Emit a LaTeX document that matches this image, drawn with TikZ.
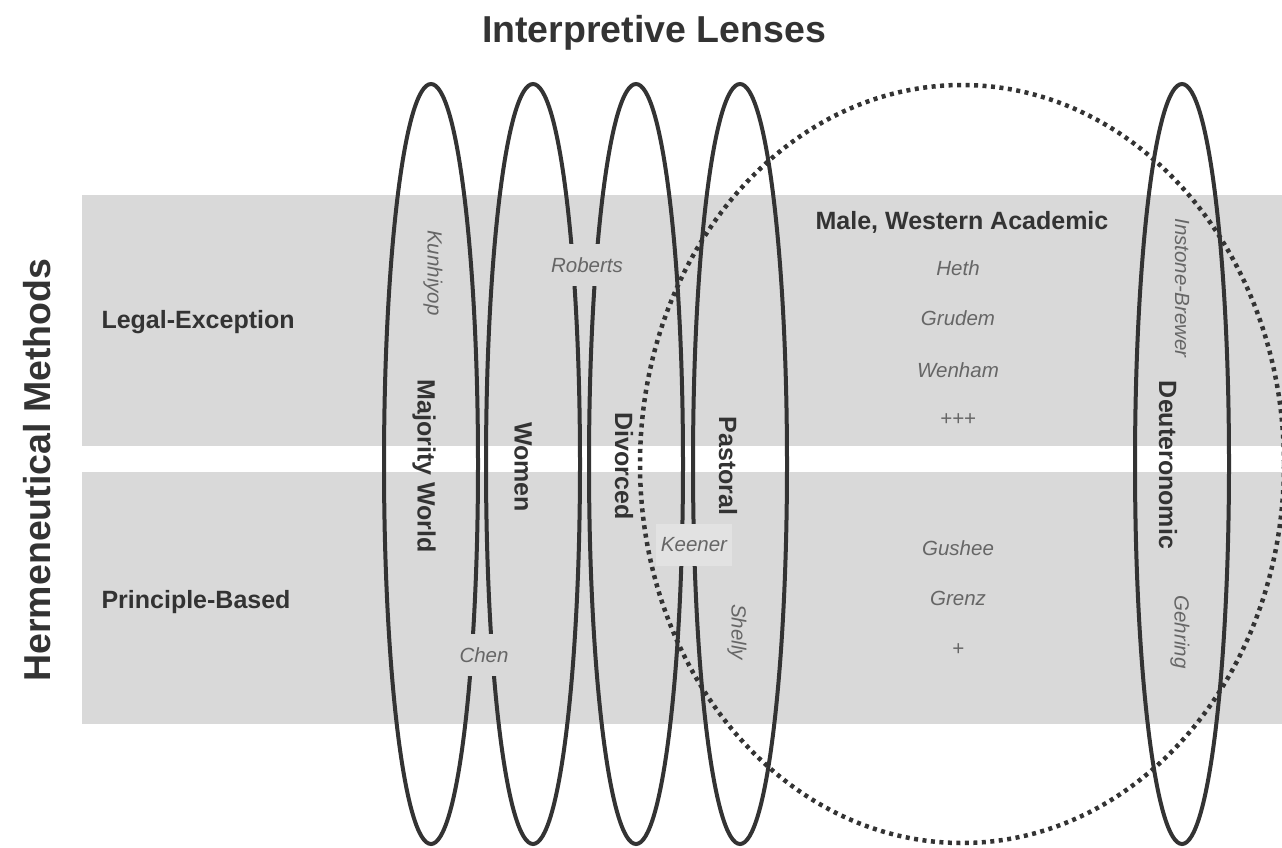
\documentclass[tikz,border=0pt]{standalone}
\usepackage{fontspec}
\setmainfont{Liberation Sans}
\usetikzlibrary{shapes.geometric}

\definecolor{bandgray}{HTML}{D9D9D9}
\definecolor{inkgray}{HTML}{333333}
\definecolor{scholargray}{HTML}{666666}

\begin{document}
\begin{tikzpicture}[x=1pt,y=-1pt,
    band/.style={fill=bandgray,inner sep=0pt,minimum width=1200pt,anchor=north west},
    lens/.style={ellipse,draw=inkgray,line width=4pt,inner sep=0pt,minimum width=94pt,minimum height=760pt},
    ring/.style={ellipse,draw=inkgray,line width=4.5pt,dash pattern=on 4pt off 4.5pt,inner sep=0pt},
    lenstext/.style={text=inkgray,font=\bfseries\fontsize{25}{30}\selectfont},
    scholar/.style={text=scholargray,font=\itshape\fontsize{20.5}{24}\selectfont},
    gapbox/.style={scholar,fill=bandgray,inner xsep=5pt,inner ysep=13.5pt},
    vert/.style={rotate=-90}]
\useasboundingbox (0,0) rectangle (1282,847);

% methods
\node[band,minimum height=251pt] (legal) at (82,195) {};
\node[band,minimum height=252pt] (principle) at (82,472) {};

% lenses
\node[lens] (majority) at (431,464) {};
\node[lens] (women)    at (533,464) {};
\node[lens] (divorced) at (636,464) {};
\node[lens] (pastoral) at (740,464) {};
\node[lens] (deut)     at (1182,464) {};
\node[ring,minimum width=644pt,minimum height=758pt] (academic) at (962,464) {};

% headings
\node[text=inkgray,font=\bfseries\fontsize{37.5}{44}\selectfont,anchor=base] (lenses) at (654,42) {Interpretive Lenses};
\node[text=inkgray,font=\bfseries\fontsize{37.5}{44}\selectfont,rotate=90] (methods) at (37,470) {Hermeneutical Methods};
\node[lenstext,anchor=west] (legal-lbl) at (98,322) {Legal-Exception};
\node[lenstext,anchor=west] (principle-lbl) at (98,602) {Principle-Based};

% lens names
\node[lenstext,vert] (majority-lbl) at (424,466) {Majority World};
\node[lenstext,vert] (women-lbl)    at (523,467) {Women};
\node[lenstext,vert] (divorced-lbl) at (624,466) {Divorced};
\node[lenstext,vert] (pastoral-lbl) at (728,466) {Pastoral};
\node[lenstext,vert] (deut-lbl)     at (1168,465) {Deuteronomic};
\node[lenstext] (academic-lbl) at (962,222) {Male, Western Academic};

% scholars
\node[scholar,vert] (kunhiyop) at (433,273) {Kunhiyop};
\node[scholar,vert] (instone)  at (1182,288) {Instone-Brewer};
\node[scholar,vert] (gehring)  at (1180,632) {Gehring};
\node[scholar,vert] (shelly)   at (737,632) {Shelly};
\node[gapbox] (roberts) at (587,265) {Roberts};
\node[gapbox] (chen)    at (484,655) {Chen};
\node[gapbox,fill=bandgray!75!white] (keener) at (694,545) {Keener};
\node[scholar] (heth)   at (958,268) {Heth};
\node[scholar] (grudem) at (958,318) {Grudem};
\node[scholar] (wenham) at (958,370) {Wenham};
\node[scholar] (more3)  at (958,420) {+++};
\node[scholar] (gushee) at (958,548) {Gushee};
\node[scholar] (grenz)  at (958,598) {Grenz};
\node[scholar] (more1)  at (958,650) {+};
\end{tikzpicture}
\end{document}
